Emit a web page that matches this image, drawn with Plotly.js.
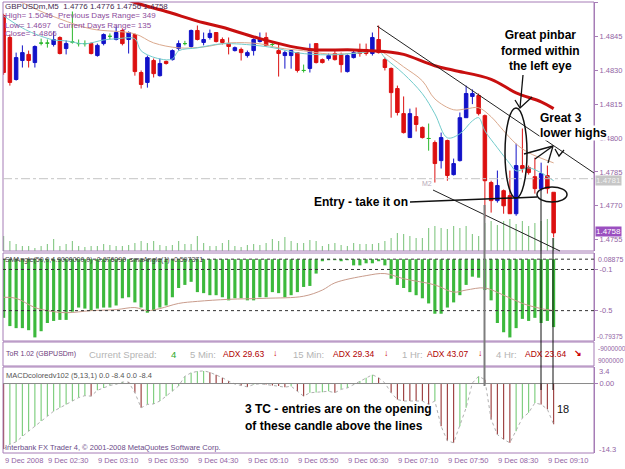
<!DOCTYPE html>
<html><head><meta charset="utf-8">
<script src="https://cdn.plot.ly/plotly-3.0.1.min.js"></script>
<style>html,body{margin:0;padding:0;background:#fff;}#chart{width:625px;height:469px;}</style>
</head><body><div id="chart"></div>
<script>
// ---------- DATA (GBPUSDm M5, bar index 0..88) ----------
const open = [1.48542,1.48445,1.48259,1.48343,1.48370,1.48334,1.48420,1.48420,1.48414,1.48445,
1.48396,1.48425,1.48418,1.48418,1.48418,1.48365,1.48418,1.48450,1.48436,1.48476,
1.48436,1.48458,1.48290,1.48246,1.48343,1.48276,1.48339,1.48347,1.48396,1.48418,
1.48405,1.48476,1.48423,1.48445,1.48467,1.48436,1.48418,1.48387,1.48392,1.48365,
1.48387,1.48427,1.48445,1.48414,1.48387,1.48365,1.48365,1.48378,1.48299,1.48308,
1.48418,1.48347,1.48352,1.48374,1.48370,1.48294,1.48356,1.48387,1.48392,1.48374,
1.48436,1.48347,1.48308,1.48219,1.48108,1.48002,1.48095,1.48047,1.47998,1.47980,
1.47900,1.47989,1.47838,1.47900,1.48090,1.48184,1.48188,1.48099,1.47803,1.47723,
1.47767,1.47745,1.47665,1.47878,1.47869,1.47829,1.47776,1.47834,1.47760];
const high = [1.48550,1.48458,1.48378,1.48410,1.48387,1.48410,1.48440,1.48436,1.48472,1.48450,
1.48432,1.48560,1.48436,1.48432,1.48423,1.48418,1.48463,1.48463,1.48494,1.48485,
1.48472,1.48463,1.48299,1.48365,1.48352,1.48352,1.48343,1.48392,1.48432,1.48430,
1.48480,1.48498,1.48467,1.48480,1.48467,1.48445,1.48445,1.48405,1.48400,1.48387,
1.48441,1.48467,1.48467,1.48420,1.48423,1.48387,1.48392,1.48378,1.48325,1.48418,
1.48418,1.48352,1.48374,1.48392,1.48378,1.48370,1.48387,1.48418,1.48418,1.48467,
1.48498,1.48356,1.48312,1.48232,1.48184,1.48130,1.48135,1.48051,1.48064,1.47989,
1.48024,1.47993,1.47909,1.48113,1.48232,1.48215,1.48197,1.48104,1.47811,1.47856,
1.47772,1.47856,1.47975,1.48042,1.47878,1.47913,1.47891,1.47878,1.47760];
const low = [1.48280,1.48232,1.48254,1.48312,1.48312,1.48312,1.48410,1.48400,1.48405,1.48370,
1.48370,1.48418,1.48405,1.48405,1.48370,1.48360,1.48410,1.48436,1.48432,1.48410,
1.48374,1.48276,1.48219,1.48223,1.48268,1.48272,1.48325,1.48343,1.48387,1.48410,
1.48400,1.48432,1.48410,1.48436,1.48423,1.48414,1.48370,1.48383,1.48343,1.48356,
1.48365,1.48423,1.48405,1.48400,1.48272,1.48307,1.48307,1.48290,1.48290,1.48290,
1.48330,1.48330,1.48343,1.48343,1.48290,1.48290,1.48352,1.48360,1.48365,1.48365,
1.48374,1.48299,1.48090,1.48100,1.48020,1.48002,1.48029,1.47998,1.47944,1.47803,
1.47865,1.47811,1.47834,1.47896,1.48090,1.48150,1.48100,1.47647,1.47670,1.47714,
1.47665,1.47665,1.47656,1.47847,1.47838,1.47754,1.47767,1.47754,1.47560];
const close = [1.48290,1.48246,1.48356,1.48378,1.48343,1.48405,1.48420,1.48420,1.48436,1.48374,
1.48418,1.48425,1.48418,1.48418,1.48374,1.48410,1.48458,1.48450,1.48467,1.48418,
1.48467,1.48294,1.48237,1.48356,1.48285,1.48330,1.48330,1.48387,1.48418,1.48418,
1.48476,1.48436,1.48436,1.48463,1.48427,1.48423,1.48405,1.48400,1.48378,1.48378,
1.48436,1.48440,1.48410,1.48414,1.48374,1.48378,1.48387,1.48299,1.48299,1.48392,
1.48334,1.48334,1.48365,1.48347,1.48325,1.48365,1.48378,1.48374,1.48374,1.48445,
1.48378,1.48312,1.48201,1.48113,1.48024,1.48108,1.48060,1.48002,1.47998,1.47887,
1.48002,1.47834,1.47887,1.48090,1.48197,1.48197,1.48108,1.47811,1.47723,1.47790,
1.47700,1.47665,1.47878,1.47865,1.47847,1.47776,1.47843,1.47776,1.47580];
const volume = [15,10,7,5,5,3,5,7,12,5, 7,10,5,4,5,5,7,6,5,5, 6,8,10,8,10,6,5,6,10,7,
7,15,8,5,5,8,11,5,4,6, 7,6,8,12,10,14,10,8,8,11, 10,5,7,8,6,5,8,7,7,7,
8,10,13,18,17,15,13,13,23,25, 23,22,25,23,25,17,15,28,30,26, 30,32,27,30,25,28,30,32,13];

const maSlowX = [0,12,21,26,32,35,41,47,50,56,62,64,69,72,78,82,86,88];
const maSlow  = [1.4877,1.4869,1.4860,1.4856,1.4851,1.4849,1.4844,1.4840,1.4839,1.4839,1.4838,1.4837,1.4832,1.4830,1.4826,1.4820,1.4816,1.4813];
const maMidX = [0,4,9,14,21,24,28,32,36,41,44,48,52,57,60,62,64,67,69,72,74,76,78,80,82,84,88];
const maMid  = [1.48642,1.48585,1.48527,1.48483,1.48461,1.48421,1.48399,1.48403,1.48421,1.48417,1.48399,1.48386,1.48372,1.48377,1.48386,1.48355,1.48315,1.48253,1.48173,1.48125,1.48129,1.48134,1.48094,1.48032,1.47974,1.47935,1.47890];
const maFastX = [0,3,5,8,10,13,16,18,21,22,25,27,28,31,35,41,44,47,52,57,60,61,64,67,69,71,73,75,76,77,79,81,82,84,86,88];
const maFast  = [1.48540,1.48487,1.48461,1.48434,1.48430,1.48417,1.48434,1.48439,1.48439,1.48386,1.48350,1.48350,1.48386,1.48399,1.48417,1.48408,1.48395,1.48377,1.48368,1.48377,1.48386,1.48355,1.48284,1.48196,1.48107,1.48001,1.48019,1.48076,1.48090,1.48032,1.47957,1.47886,1.47855,1.47868,1.47846,1.47811];

const oscHist = [-0.57,-0.65,-0.67,-0.67,-0.69,-0.76,-0.70,-0.62,-0.60,-0.59,
-0.59,-0.51,-0.47,-0.48,-0.50,-0.48,-0.47,-0.47,-0.45,-0.38,
-0.37,-0.42,-0.47,-0.52,-0.50,-0.47,-0.45,-0.37,-0.28,-0.25,
-0.22,-0.32,-0.33,-0.35,-0.35,-0.37,-0.40,-0.38,-0.38,-0.40,
-0.40,-0.37,-0.37,-0.32,-0.33,-0.37,-0.35,-0.32,-0.27,-0.26,
-0.14,-0.02,-0.01,-0.01,-0.02,-0.01,-0.06,-0.06,-0.04,-0.04,
-0.02,-0.06,-0.19,-0.25,-0.28,-0.32,-0.35,-0.38,-0.43,-0.53,
-0.53,-0.47,-0.42,-0.35,-0.25,-0.17,-0.18,-0.30,-0.40,-0.62,
-0.71,-0.76,-0.67,-0.58,-0.60,-0.57,-0.62,-0.60,-0.66];
const oscSigX = [0,2,5,7,10,14,18,21,23,25,28,31,36,42,48,51,53,58,61,64,69,72,74,77,80,83,86,88];
const oscSig  = [-0.37,-0.38,-0.47,-0.50,-0.52,-0.50,-0.49,-0.47,-0.50,-0.48,-0.43,-0.41,-0.39,-0.38,-0.36,-0.30,-0.23,-0.16,-0.14,-0.19,-0.25,-0.32,-0.30,-0.28,-0.35,-0.43,-0.48,-0.50];

const macdHist = [-13.5,-12.5,-12.0,-10.8,-9.8,-8.8,-7.7,-6.7,-5.7,-5.0,
-4.3,-3.6,-2.9,-2.5,-2.6,-1.4,-0.9,-0.4,-0.15,0.3,
0.3,-1.9,-5.0,-4.3,-4.2,-3.6,-2.6,-1.6,-0.5,1.5,
2.2,2.5,2.6,2.3,1.8,1.2,0.5,-0.1,-0.4,-0.7,
-0.2,-0.05,-0.2,-0.4,-0.5,-0.75,-0.55,-1.6,-2.6,-1.9,
-1.85,-1.8,-1.6,-1.9,-1.2,-0.9,-0.2,0.5,1.2,1.8,
1.2,0.1,-1.9,-3.3,-3.6,-3.6,-3.6,-3.6,-4.3,-3.6,
-8.8,-11.8,-12.2,-8.8,-5.0,0.1,1.5,0.8,-7.4,-10.5,
-11.5,-12.2,-9.8,-7.1,-6.0,-4.0,-4.3,-5.3,-8.4];

const timeLabels = ['9 Dec 2008','9 Dec 02:30','9 Dec 03:10','9 Dec 03:50','9 Dec 04:30','9 Dec 05:10','9 Dec 05:50','9 Dec 06:30','9 Dec 07:10','9 Dec 07:50','9 Dec 08:30','9 Dec 09:10'];
const timeLabelBars = [0,7,15,23,31,39,47,55,63,71,79,87];

// ---------- helpers / styles ----------
const L=3,R=594,T=2,B=453;
const px = x => (x-L)/(R-L);
const py = y => (B-y)/(B-T);
const ink = '#a67db6', lab = '#9264a4';
const FONT = 'Liberation Sans, Arial, sans-serif';
const idx = open.map((_,i)=>i);

function subset(cond){
  const s = idx.filter(cond);
  return {x:s, open:s.map(i=>open[i]), high:s.map(i=>high[i]), low:s.map(i=>low[i]), close:s.map(i=>close[i])};
}
function candle(d,color){
  return Object.assign({type:'candlestick', xaxis:'x', yaxis:'y', whiskerwidth:0, hoverinfo:'skip',
    increasing:{line:{color:color,width:1},fillcolor:color},
    decreasing:{line:{color:color,width:1},fillcolor:color}}, d);
}
const macdColors = macdHist.map((v,i)=> (i>0 && v>macdHist[i-1]) ? '#7acc7a' : '#9a3a3a');

const traces = [
  {type:'bar', x:idx, y:volume, xaxis:'x', yaxis:'y4', width:0.18, marker:{color:'#86c886'}, hoverinfo:'skip'},
  candle(subset(i=>close[i]>open[i]), '#1212c8'),
  candle(subset(i=>close[i]<open[i]), '#dc1010'),
  candle(subset(i=>close[i]===open[i]), '#2cb82c'),
  {type:'scatter', mode:'lines', x:maMidX, y:maMid, xaxis:'x', yaxis:'y', line:{color:'#dba98d',width:1,shape:'spline',smoothing:1}, hoverinfo:'skip'},
  {type:'scatter', mode:'lines', x:maFastX, y:maFast, xaxis:'x', yaxis:'y', line:{color:'#72cccc',width:1,shape:'spline',smoothing:1}, hoverinfo:'skip'},
  {type:'scatter', mode:'lines', x:maSlowX, y:maSlow, xaxis:'x', yaxis:'y', line:{color:'#c80f0f',width:3,shape:'spline',smoothing:1}, hoverinfo:'skip'},
  {type:'bar', x:idx, y:oscHist, xaxis:'x', yaxis:'y2', width:0.5, marker:{color:'#3cb93c'}, hoverinfo:'skip'},
  {type:'scatter', mode:'lines', x:oscSigX, y:oscSig, xaxis:'x', yaxis:'y2', line:{color:'#c99c8c',width:1,shape:'spline',smoothing:1}, hoverinfo:'skip'},
  {type:'bar', x:idx, y:macdHist, xaxis:'x', yaxis:'y3', width:0.18, marker:{color:macdColors}, hoverinfo:'skip'},
  {type:'scatter', mode:'lines', x:idx, y:macdHist, xaxis:'x', yaxis:'y3', line:{color:'#b0b0b0',width:1,dash:'dot'}, hoverinfo:'skip'}
];

// ---------- shapes ----------
const shapes = [];
function rect(x0,y0,x1,y1){shapes.push({type:'rect',xref:'paper',yref:'paper',x0:px(x0),x1:px(x1),y0:py(y1),y1:py(y0),line:{color:ink,width:1},fillcolor:'rgba(0,0,0,0)'});}
function seg(x0,y0,x1,y1,color,width,dash){shapes.push({type:'line',xref:'paper',yref:'paper',x0:px(x0),y0:py(y0),x1:px(x1),y1:py(y1),line:{color:color,width:width,dash:dash||'solid'}});}
function oval(x0,y0,x1,y1){shapes.push({type:'circle',xref:'paper',yref:'paper',x0:px(x0),x1:px(x1),y0:py(y1),y1:py(y0),line:{color:'#111',width:1.5}});}
function path(pts){shapes.push({type:'path',xref:'paper',yref:'paper',path:pts.map((p,k)=>(k?'L':'M')+px(p[0])+','+py(p[1])).join(' '),line:{color:'#111',width:1.3}});}
function hline(yref,v,color,dash){shapes.push({type:'line',xref:'paper',yref:yref,x0:0,x1:1,y0:v,y1:v,line:{color:color,width:1,dash:dash}});}

rect(3,2,594,251); rect(3,253,594,341); rect(3,342,594,366); rect(3,367,594,453);
hline('y',1.4782,'#c4c4c4','dashdot');
hline('y2',0,'#333','3px,3px'); hline('y2',-0.1,'#333','3px,3px'); hline('y2',-0.5,'#333','3px,3px');
hline('y3',0,'#8a8a8a','solid');
seg(377,26,594,173,'#222',1);
seg(433,190,560,251,'#222',1);
seg(484.5,205,484.5,386,'#7d7d7d',2);
seg(541,190,541,390,'#111',1);
seg(553,238,553,390,'#111',1);
seg(410,202,537,197,'#111',1.5);
oval(505,108,527,198);
oval(537,187,567,202);
path([[523,75],[520,108]]);
path([[515,100],[520,108],[532,97]]);
path([[553,146],[524,154]]);
path([[553,146],[535,159]]);
path([[553,146],[548,163]]);
path([[555,149],[559,156],[564,150]]);

// ---------- annotations ----------
const anns = [];
function txt(x,y,text,size,color,extra){anns.push(Object.assign({xref:'paper',yref:'paper',x:px(x),y:py(y),xanchor:'left',yanchor:'middle',showarrow:false,text:text,font:{family:FONT,size:size,color:color}},extra||{}));}

timeLabels.forEach((t,k)=>anns.push({xref:'x',yref:'paper',x:timeLabelBars[k],y:py(460),xanchor:'left',yanchor:'middle',showarrow:false,text:t,font:{family:FONT,size:7.5,color:lab},borderpad:0}));

txt(3,6,'GBPUSDm,M5  1.4776 1.4776 1.4756 1.4758',8,'#45284f');
txt(3,16,'High= 1.5046',8,'#8c4c9c'); txt(56,16,'Previous Days Range= 349',8,'#8c4c9c');
txt(3,25,'Low= 1.4697',8,'#8c4c9c'); txt(56,25,'Current Days Range= 135',8,'#8c4c9c');
txt(3,34,'Close= 1.4866',8,'#8c4c9c');
txt(420,183,'M2',7,'#b8a8b8');
txt(3,260,'SMAngle(50,0,4.9000000,0) -0.676090  smaAngle(1) -0.597371',7,'#454545');
txt(4,375,'MACDcoloredv102 (5,13,1) 0.0 -8.4 0.0 -8.4',7.5,'#555');
txt(3,447,'Interbank FX Trader 4, © 2001-2008 MetaQuotes Software Corp.',7.5,'#6a4a88');

txt(4,354,'ToR 1.02 (GBPUSDm)',7,'#6b3a7a');
txt(87,354,'Current Spread:',9.5,'#b4b4b4'); txt(169,354,'4',9.5,'#2aa82a');
txt(188,354,'5 Min:',9.5,'#b4b4b4'); txt(221,354,'ADX 29.63',8.5,'#b00000'); txt(271,353,'<b>↓</b>',9,'#cc0000');
txt(291,354,'15 Min:',9.5,'#b4b4b4'); txt(331,354,'ADX 29.34',8.5,'#b00000'); txt(382,353,'<b>↓</b>',9,'#cc0000');
txt(400,354,'1 Hr:',9.5,'#b4b4b4'); txt(425,354,'ADX 43.07',8.5,'#b00000'); txt(476,353,'<b>↓</b>',9,'#cc0000');
txt(494,354,'4 Hr:',9.5,'#b4b4b4'); txt(523,354,'ADX 23.64',8.5,'#b00000'); txt(572,353,'<b>↘</b>',9,'#cc0000');

txt(596,259,'0.08875',7,lab); txt(595,336,'-0.79375',6.5,lab);
txt(596,348,'-9000000',6.5,lab); txt(596,360,'9000000',6.5,lab);
txt(597,371,'3.4',7.5,lab); txt(597,449,'-14.3',7.5,lab);
txt(595,180,'1.4781',8,'#f2f2f2',{bgcolor:'#c6c6c6',borderpad:0});
txt(595,231,'1.4758',8,'#ffffff',{bgcolor:'#9b4fc0',borderpad:0});

const hb = '#000';
anns.push({xref:'paper',yref:'paper',x:px(540),y:py(50),xanchor:'center',yanchor:'middle',align:'center',showarrow:false,
  text:'<b>Great pinbar<br>formed within<br>the left eye</b>',font:{family:FONT,size:12,color:hb}});
txt(539,118,'<b>Great 3</b>',12,hb,{bgcolor:'#ffffff',borderpad:0});
txt(539,133,'<b>lower highs</b>',12,hb,{bgcolor:'#ffffff',borderpad:0});
txt(312,202,'<b>Entry - take it on</b>',12,hb);
txt(243,409,'<b>3 TC - entries are on the opening</b>',12,hb);
txt(243,426,'<b>of these candle above the lines</b>',12,hb);
txt(555,409,'18',11,'#111');

const yc = {side:'right',anchor:'x',showgrid:false,zeroline:false,showline:true,linecolor:ink,linewidth:1,
  ticks:'outside',ticklen:3,tickcolor:ink,tickfont:{family:FONT,size:7.5,color:lab},fixedrange:true};

const layout = {
  width:625,height:469,margin:{l:3,r:31,t:2,b:16,pad:0},
  paper_bgcolor:'#ffffff',plot_bgcolor:'#ffffff',showlegend:false,hovermode:false,
  font:{family:FONT,size:8,color:lab},
  boxgap:0.3, boxgroupgap:0.2, barmode:'overlay',
  xaxis:{range:[-0.1,94.46],showticklabels:false,ticks:'',showgrid:false,zeroline:false,showline:false,
         rangeslider:{visible:false},anchor:'y3',fixedrange:true},
  yaxis:Object.assign({},yc,{domain:[py(251),py(2)],range:[1.4750,1.48602],tick0:1.4755,dtick:0.0015,tickformat:'.4f'}),
  yaxis2:Object.assign({},yc,{domain:[py(341),py(253)],range:[-0.795,0.06],tickvals:[-0.1,-0.5],ticktext:['-0.1','-0.5']}),
  yaxis3:Object.assign({},yc,{domain:[0,py(367)],range:[-14.3,3.4],tickvals:[0],ticktext:['0.00']}),
  yaxis4:{overlaying:'y',range:[0,249],visible:false,fixedrange:true},
  shapes:shapes, annotations:anns
};
Plotly.newPlot('chart',traces,layout,{staticPlot:true,displayModeBar:false});
</script></body></html>
